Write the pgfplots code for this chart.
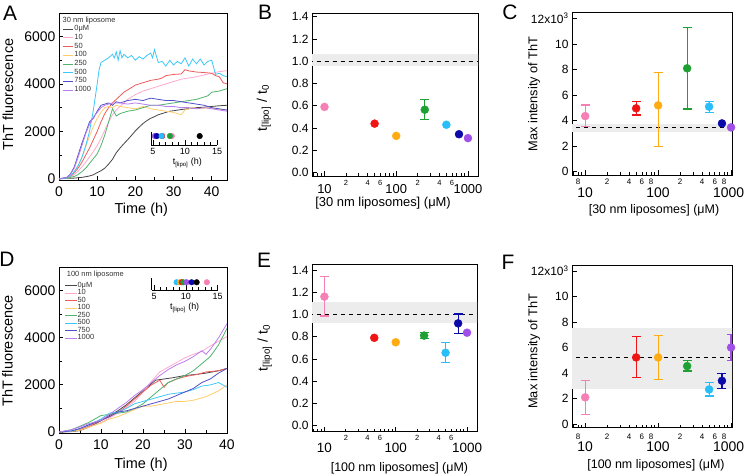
\documentclass[border=0pt]{standalone}
\usepackage{pgfplots}
\pgfplotsset{compat=1.18}
\usepackage{fontspec}
\setmainfont{Liberation Sans}
\newcommand{\fs}[1]{\fontsize{#1}{#1}\selectfont}

\definecolor{mPink}{RGB}{244,128,180}
\definecolor{mRed}{RGB}{240,20,20}
\definecolor{mOrange}{RGB}{255,172,20}
\definecolor{mGreen}{RGB}{30,160,50}
\definecolor{mCyan}{RGB}{40,190,250}
\definecolor{mBlue}{RGB}{10,10,170}
\definecolor{mPurple}{RGB}{160,80,230}
\definecolor{lBlack}{RGB}{70,70,70}
\definecolor{lPink}{RGB}{255,170,205}
\definecolor{lRed}{RGB}{240,90,90}
\definecolor{lOrange}{RGB}{255,205,110}
\definecolor{lGreen}{RGB}{80,180,110}
\definecolor{lCyan}{RGB}{60,200,250}
\definecolor{lBlue}{RGB}{80,80,200}
\definecolor{lPurple}{RGB}{185,125,240}
\definecolor{band}{RGB}{236,236,236}

\pgfplotsset{
  base/.style={scale only axis, axis line style={line width=0.9bp, black},
    tick style={line width=0.8bp, black}, tick align=inside,
    xtick pos=left, ytick pos=left, scaled ticks=false,
    /pgf/number format/assume math mode=true},
  tp/.style={base, width=168bp,
    major tick length=4bp, minor tick length=2.5bp,
    xtick={0,10,20,30,40}, xticklabels={0,10,20,30,40}, minor x tick num=1,
    ytick={0,2000,4000,6000}, yticklabels={0,2000,4000,6000}, minor y tick num=1,
    tick label style={font=\fs{14}}, xticklabel style={yshift=-3bp},
    xlabel={Time (h)}, ylabel={ThT fluorescence},
    label style={font=\fs{14.5}},
    legend cell align=left,
    every axis plot/.append style={line width=0.8bp}},
  lp/.style={base,
    major tick length=5bp, minor tick length=3bp,
    xtick={10,100,1000},
    yticklabel style={font=\fs{12}}, clip mode=individual},
  pt/.style={only marks, mark=*, mark size=4bp, color=#1, mark options={fill=#1, draw=#1, solid},
    error bars/.cd, y dir=both, y explicit,
    error bar style={line width=1.2bp, color=#1},
    error mark options={rotate=90, mark size=4.5bp, line width=1.2bp, color=#1}},
  pz/.style={only marks, mark=*, mark size=4bp, color=#1, mark options={fill=#1, draw=#1, solid}},
  ip/.style={scale only axis, width=66bp, xmin=4.7, xmax=15, ymin=0, ymax=1,
    axis x line=bottom, axis y line=left, axis line style={-, line width=0.7bp, black},
    ytick=\empty, xtick={5,10,15}, xticklabels={5,10,15}, minor x tick num=4,
    tick align=inside, major tick length=5bp, minor tick length=3bp,
    tick style={line width=0.6bp, black}, tick label style={font=\fs{9}},
    xlabel={t\textsubscript{[lipo]} (h)}, xlabel style={font=\fs{9}, anchor=center},
    clip=false},
  id/.style={only marks, mark=*, mark size=2.8bp, color=#1, mark options={fill=#1, draw=#1}},
}

\begin{document}
\begin{tikzpicture}
\useasboundingbox (0,0) rectangle (745bp,474bp);

% ================= A =================
\begin{axis}[tp, at={(59bp,294bp)}, anchor=south west, height=167bp,
  xmin=0, xmax=44, ymin=-50, ymax=6990,
  xlabel style={at={(axis description cs:0.49,-0.18)}, anchor=center},
  ylabel style={at={(axis description cs:-0.304,0.512)}, anchor=center},
  legend style={at={(axis description cs:0.022,0.93)}, anchor=north west, draw=none, fill=none,
    inner sep=0pt, row sep=0pt, font=\fs{7.5},
    nodes={inner sep=0.6bp, text height=5.3bp, text depth=2.2bp, text=black!80}},
  legend image code/.code={\draw[#1, line width=0.9bp] (0bp,0bp) -- (10bp,0bp);},
  legend entries={0μM,10,50,100,250,500,750,1000}]
\addplot[lBlack] coordinates {(0,0) (2,20) (4,30) (6,60) (8,120) (9,170) (10,260) (11,340) (12,450) (13,620) (14,820) (15,1100) (16,1300) (17,1480) (18,1650) (19,1830) (20,2020) (21,2180) (22,2330) (23,2450) (24,2550) (25,2620) (26,2700) (27,2750) (28,2800) (29,2850) (30,2870) (32,2920) (34,2960) (36,3000) (38,3020) (40,3050) (42,3080) (44,3100)};
\addplot[lPink] coordinates {(0,0) (2,30) (3,80) (4,180) (5,320) (6,500) (7,700) (8,920) (9,1150) (10,1400) (11,1700) (12,2050) (13,2400) (14,2700) (15,2900) (16,3050) (17,3200) (18,3350) (19,3450) (20,3550) (22,3700) (24,3800) (26,3900) (28,4000) (30,4100) (32,4200) (34,4250) (36,4300) (38,4380) (40,4450) (42,4520) (44,4560)};
\addplot[lRed] coordinates {(0,0) (2,30) (3,100) (4,250) (5,450) (6,700) (7,1000) (8,1300) (9,1650) (10,2000) (11,2400) (12,2750) (13,3000) (14,3200) (15,3350) (16,3500) (17,3650) (18,3750) (19,3850) (20,3950) (22,4050) (24,4150) (26,4200) (27,4250) (28,4350) (30,4400) (32,4420) (33,4600) (34,4550) (36,4500) (38,4480) (40,4450) (41,4350) (42,4300) (43,4050) (44,4000)};
\addplot[lOrange] coordinates {(0,0) (2,40) (3,120) (4,300) (5,550) (6,900) (7,1350) (8,1800) (9,2200) (10,2550) (11,2800) (12,3000) (13,3050) (14,3000) (15,3100) (16,3050) (18,3000) (20,2950) (22,3050) (24,2950) (26,2900) (28,2850) (30,2800) (31,2750) (32,2700) (33,2900) (35,3000) (37,2950) (39,3000) (41,2950) (44,2900)};
\addplot[lGreen] coordinates {(0,0) (2,20) (4,100) (5,180) (6,300) (7,450) (8,650) (9,850) (10,1050) (11,1400) (12,1850) (13,2400) (14,2950) (15,2650) (16,2750) (17,2800) (18,2850) (20,2900) (22,3000) (24,3100) (26,3100) (28,3150) (30,3200) (32,3250) (34,3300) (36,3350) (38,3450) (39,3500) (40,3650) (42,3700) (44,3800)};
\addplot[lCyan] coordinates {(0,0) (2,40) (3,120) (4,300) (5,550) (6,900) (7,1400) (8,2000) (9,2900) (10,4000) (10.5,4600) (11,4900) (12,5000) (13,5100) (14,5250) (14.5,5100) (15,5350) (15.5,5000) (16,5400) (16.5,5100) (17,5250) (18,5100) (19,5200) (20,5000) (21,5150) (22,5050) (23,5200) (24,5300) (24.5,5100) (25,5450) (26,4900) (27,4950) (28,4750) (29,5000) (30,4800) (31,4950) (32,4850) (33,5100) (34,4750) (35,5050) (36,4850) (37,5050) (38,4800) (39,4950) (40,5000) (41,4400) (42,4450) (43,4350) (44,4300)};
\addplot[lBlue] coordinates {(0,0) (2,60) (3,200) (4,500) (5,1000) (6,1500) (7,1950) (8,2400) (9,2550) (10,2850) (11,3100) (12,3150) (13,3200) (14,3100) (15,3250) (16,3200) (18,3300) (20,3350) (22,3300) (24,3400) (26,3350) (28,3300) (30,3300) (32,3250) (34,3200) (36,3150) (38,3100) (40,3000) (42,2950) (44,2900)};
\addplot[lPurple] coordinates {(0,0) (2,50) (3,180) (4,450) (5,900) (6,1400) (7,1900) (8,2300) (9,2600) (10,2800) (11,3000) (12,3100) (13,3150) (14,3200) (16,3200) (18,3150) (20,3200) (22,3150) (24,3100) (26,3100) (28,3050) (30,3050) (32,3000) (34,3000) (36,2950) (38,3000) (40,2950) (42,2900) (44,2850)};
\node[anchor=west, font=\fs{7.5}, inner sep=0pt, text=black!80] at (axis description cs:0.021,0.955) {30 nm liposome};
\end{axis}

% inset A
\begin{axis}[ip, at={(151bp,329bp)}, anchor=south west, height=13bp,
  xlabel style={at={(axis description cs:0.55,-1.38)}}]
\addplot[id=mPink] coordinates {(7.95,0.69)};
\addplot[id=mRed] coordinates {(6.45,0.69)};
\addplot[id=mOrange] coordinates {(5.45,0.69)};
\addplot[id=mPurple] coordinates {(5.3,0.69)};
\addplot[id=mBlue] coordinates {(5.6,0.69)};
\addplot[id=mCyan] coordinates {(6.35,0.69)};
\addplot[id=mGreen] coordinates {(7.65,0.69)};
\addplot[id=black] coordinates {(12.3,0.69)};
\end{axis}

% ================= D =================
\begin{axis}[tp, at={(59bp,41bp)}, anchor=south west, height=166bp,
  xmin=0, xmax=40, ymin=-40, ymax=7000,
  xlabel style={at={(axis description cs:0.488,-0.193)}, anchor=center},
  ylabel style={at={(axis description cs:-0.307,0.494)}, anchor=center},
  legend style={at={(axis description cs:0.032,0.91)}, anchor=north west, draw=none, fill=none,
    inner sep=0pt, row sep=0pt, font=\fs{7.5},
    nodes={inner sep=0.6bp, text height=4.6bp, text depth=1.7bp, text=black!80}},
  legend image code/.code={\draw[#1, line width=0.9bp] (0bp,0bp) -- (11.5bp,0bp);},
  legend entries={0μM,10,50,100,250,500,750,1000}]
\addplot[lBlack] coordinates {(0,0) (3,20) (5,60) (7,200) (9,380) (10,480) (12,700) (14,900) (16,1150) (18,1450) (20,1750) (22,2050) (23,2200) (25,2250) (27,2300) (30,2400) (33,2450) (35,2500) (38,2600) (40,2700)};
\addplot[lPink] coordinates {(0,0) (3,40) (5,100) (7,200) (10,400) (12,600) (15,900) (18,1300) (20,1700) (22,2150) (24,2550) (26,2750) (28,2950) (30,3150) (32,3300) (34,3420) (36,3650) (38,3850) (40,4050)};
\addplot[lRed] coordinates {(0,0) (3,30) (5,100) (7,250) (10,500) (12,650) (15,950) (18,1400) (20,1700) (22,2000) (24,2200) (25,1900) (26,2100) (28,2250) (30,2350) (33,2450) (35,2550) (38,2600) (40,2700)};
\addplot[lOrange] coordinates {(0,0) (3,30) (5,80) (7,200) (10,380) (12,550) (14,650) (16,800) (18,950) (20,1100) (22,1100) (25,1200) (28,1300) (30,1300) (32,1350) (35,1500) (38,1750) (40,2000)};
\addplot[lGreen] coordinates {(0,0) (3,100) (5,250) (7,400) (9,600) (10,700) (12,750) (14,800) (16,850) (18,1000) (20,1200) (22,1500) (24,1800) (26,2100) (28,2250) (30,2400) (32,2600) (34,2900) (36,3200) (38,3700) (40,4400)};
\addplot[lCyan] coordinates {(0,0) (3,40) (5,150) (7,300) (10,550) (12,800) (14,850) (16,1000) (18,1200) (20,1300) (22,1400) (24,1500) (26,1600) (28,1650) (30,1700) (32,1800) (34,1950) (36,2000) (38,2100) (40,1900)};
\addplot[lBlue] coordinates {(0,0) (3,50) (5,150) (7,300) (10,500) (12,650) (14,850) (16,900) (18,1000) (20,1100) (22,1200) (24,1300) (26,1400) (28,1550) (30,1700) (32,1850) (34,2100) (36,2250) (38,2500) (40,2700)};
\addplot[lPurple] coordinates {(0,0) (3,100) (5,220) (7,350) (10,500) (12,750) (14,1000) (16,1250) (18,1550) (20,1800) (22,2100) (24,2400) (26,2650) (28,2850) (30,3000) (32,3200) (34,3450) (35,3300) (36,3500) (38,4000) (40,4600)};
\node[anchor=west, font=\fs{7.5}, inner sep=0pt, text=black!80] at (axis description cs:0.046,0.952) {100 nm liposome};
\end{axis}

% inset D
\begin{axis}[ip, at={(151.7bp,184bp)}, anchor=south west, height=12.3bp, xmin=4.64,
  xlabel style={at={(axis description cs:0.5,-1.45)}}]
\addplot[id=mCyan] coordinates {(8.55,0.63)};
\addplot[id=mOrange] coordinates {(9.06,0.63)};
\addplot[id=mRed] coordinates {(9.35,0.63)};
\addplot[id=mGreen] coordinates {(9.6,0.63)};
\addplot[id=mPurple] coordinates {(10.1,0.63)};
\addplot[id=mBlue] coordinates {(10.9,0.63)};
\addplot[id=black] coordinates {(11.7,0.63)};
\addplot[id=mPink] coordinates {(13.3,0.63)};
\end{axis}

% ================= B =================
\begin{semilogxaxis}[lp, at={(312bp,298bp)}, anchor=south west, width=166bp, height=163bp,
  xmin=6.7, xmax=1380, ymin=-0.03, ymax=1.433,
  xticklabels={10,100,1000},
  ytick={0,0.2,0.4,0.6,0.8,1.0,1.2,1.4}, yticklabels={0.0,0.2,0.4,0.6,0.8,1.0,1.2,1.4},
  minor xtick={7,8,9,30,50,70,80,90,300,500,700,800,900},
  extra x ticks={20,40,60,200,400,600}, extra x tick labels={2,4,6,2,4,6},
  xticklabel style={font=\fs{13}, inner sep=0pt, anchor=north, yshift=-8bp},
  extra x tick style={major tick length=3bp, xticklabel style={font=\fs{7.5}, yshift=3.7bp}},
  xlabel={[30 nm liposomes] (μM)}, ylabel={t\textsubscript{[lipo]} / t\textsubscript{0}},
  xlabel style={font=\fs{13}, at={(axis description cs:0.428,-0.168)}, anchor=center},
  ylabel style={font=\fs{14}, at={(axis description cs:-0.29,0.416)}, anchor=center}]
\addplot[fill=band, draw=none] coordinates {(1,0.958) (5000,0.958) (5000,1.063) (1,1.063)} -- cycle;
\addplot[black, line width=1bp, dash pattern=on 4bp off 4bp] coordinates {(1,1) (5000,1)};
\addplot[pz=mPink] coordinates {(10,0.59)};
\addplot[pz=mRed] coordinates {(50,0.44)};
\addplot[pz=mOrange] coordinates {(100,0.33)};
\addplot[pt=mGreen] coordinates {(250,0.565) +- (0,0.09)};
\addplot[pz=mCyan] coordinates {(500,0.43)};
\addplot[pz=mBlue] coordinates {(750,0.345)};
\addplot[pz=mPurple] coordinates {(1000,0.31)};
\end{semilogxaxis}

% ================= C =================
\begin{semilogxaxis}[lp, at={(572bp,299bp)}, anchor=south west, width=160bp, height=163bp,
  xmin=6.6, xmax=1030, ymin=-0.26, ymax=12.5,
  xticklabels={10,100,{1000\hspace*{5bp}}},
  ytick={0,2,4,6,8,10,12}, yticklabels={0,2,4,6,8,10,12x10\textsuperscript{3}},
  minor xtick={7,9,30,50,70,90,300,500,700,900},
  extra x ticks={8,20,40,60,80,200,400,600,800}, extra x tick labels={8,2,4,6,8,2,4,6,8},
  xticklabel style={font=\fs{14}, inner sep=0pt, anchor=north, yshift=-13bp},
  extra x tick style={major tick length=3bp, xticklabel style={font=\fs{8}, yshift=8.9bp}},
  xlabel={[30 nm liposomes] (μM)}, ylabel={Max intensity of ThT},
  xlabel style={font=\fs{12.5}, at={(axis description cs:0.5125,-0.215)}, anchor=center},
  ylabel style={font=\fs{12.8}, at={(axis description cs:-0.2375,0.497)}, anchor=center}]
\addplot[fill=band, draw=none] coordinates {(1,3.08) (5000,3.08) (5000,3.73) (1,3.73)} -- cycle;
\addplot[black, line width=1bp, dash pattern=on 4bp off 4bp] coordinates {(1,3.44) (5000,3.44)};
\addplot[pt=mPink] coordinates {(10,4.35) += (0,0.87) -= (0,0.83)};
\addplot[pt=mRed] coordinates {(50,4.96) += (0,0.52) -= (0,0.52)};
\addplot[pt=mOrange] coordinates {(100,5.19) += (0,2.58) -= (0,3.2)};
\addplot[pt=mGreen] coordinates {(250,8.09) += (0,3.21) -= (0,3.19)};
\addplot[pt=mCyan] coordinates {(500,5.09) += (0,0.39) -= (0,0.45)};
\addplot[pz=mBlue] coordinates {(750,3.78)};
\addplot[pz=mPurple] coordinates {(1000,3.47)};
\end{semilogxaxis}

% ================= E =================
\begin{semilogxaxis}[lp, at={(312bp,42.3bp)}, anchor=south west, width=165bp, height=167.4bp,
  xmin=6.7, xmax=1380, ymin=-0.054, ymax=1.451,
  xticklabels={10,100,1000},
  ytick={0,0.2,0.4,0.6,0.8,1.0,1.2,1.4}, yticklabels={0.0,0.2,0.4,0.6,0.8,1.0,1.2,1.4},
  minor xtick={7,8,9,30,50,70,80,90,300,500,700,800,900},
  extra x ticks={20,40,60,200,400,600}, extra x tick labels={2,4,6,2,4,6},
  xticklabel style={font=\fs{13.5}, inner sep=0pt, anchor=north, yshift=-11bp},
  extra x tick style={major tick length=3bp, xticklabel style={font=\fs{7.5}, yshift=7.6bp}},
  xlabel={[100 nm liposomes] (μM)}, ylabel={t\textsubscript{[lipo]} / t\textsubscript{0}},
  xlabel style={font=\fs{12.5}, at={(axis description cs:0.53,-0.217)}, anchor=center},
  ylabel style={font=\fs{14}, at={(axis description cs:-0.287,0.50)}, anchor=center}]
\addplot[fill=band, draw=none] coordinates {(1,0.92) (5000,0.92) (5000,1.115) (1,1.115)} -- cycle;
\addplot[black, line width=1bp, dash pattern=on 4bp off 4bp] coordinates {(1,1) (5000,1)};
\addplot[pt=mPink] coordinates {(10,1.16) += (0,0.18) -= (0,0.174)};
\addplot[pz=mRed] coordinates {(50,0.79)};
\addplot[pz=mOrange] coordinates {(100,0.75)};
\addplot[pt=mGreen] coordinates {(250,0.81) +- (0,0.025)};
\addplot[pt=mCyan] coordinates {(500,0.656) += (0,0.09) -= (0,0.089)};
\addplot[pt=mBlue] coordinates {(750,0.92) += (0,0.084) -= (0,0.09)};
\addplot[pz=mPurple] coordinates {(1000,0.836)};
\end{semilogxaxis}

% ================= F =================
\begin{semilogxaxis}[lp, at={(572bp,46.3bp)}, anchor=south west, width=160bp, height=162.7bp,
  xmin=6.6, xmax=1030, ymin=-0.29, ymax=12.47,
  xticklabels={10,100,{1000\hspace*{5bp}}},
  ytick={0,2,4,6,8,10,12}, yticklabels={0,2,4,6,8,10,12x10\textsuperscript{3}},
  minor xtick={7,9,30,50,70,90,300,500,700,900},
  extra x ticks={8,20,40,60,80,200,400,600,800}, extra x tick labels={8,2,4,6,8,2,4,6,8},
  xticklabel style={font=\fs{14}, inner sep=0pt, anchor=north, yshift=-14bp},
  extra x tick style={major tick length=3bp, xticklabel style={font=\fs{8}, yshift=7.9bp}},
  xlabel={[100 nm liposomes] (μM)}, ylabel={Max intensity of ThT},
  xlabel style={font=\fs{12.5}, at={(axis description cs:0.525,-0.229)}, anchor=center},
  ylabel style={font=\fs{12.8}, at={(axis description cs:-0.2375,0.47)}, anchor=center}]
\addplot[fill=band, draw=none] coordinates {(1,2.74) (5000,2.74) (5000,7.54) (1,7.54)} -- cycle;
\addplot[black, line width=1bp, dash pattern=on 4bp off 4bp] coordinates {(1,5.22) (5000,5.22)};
\addplot[pt=mPink] coordinates {(10,2.09) += (0,1.35) -= (0,1.33)};
\addplot[pt=mRed] coordinates {(50,5.22) += (0,1.62) -= (0,1.59)};
\addplot[pt=mOrange] coordinates {(100,5.22) += (0,1.75) -= (0,1.7)};
\addplot[pt=mGreen] coordinates {(250,4.54) += (0,0.46) -= (0,0.39)};
\addplot[pt=mCyan] coordinates {(500,2.71) += (0,0.55) -= (0,0.52)};
\addplot[pt=mBlue] coordinates {(750,3.39) += (0,0.58) -= (0,0.6)};
\addplot[pt=mPurple] coordinates {(1000,6.0) += (0,1.02) -= (0,0.99)};
\end{semilogxaxis}

% panel letters
\node[font=\fs{21}] at (10bp,461bp) {A};
\node[font=\fs{21}] at (265bp,462bp) {B};
\node[font=\fs{21}] at (510bp,462bp) {C};
\node[font=\fs{21}] at (7bp,215bp) {D};
\node[font=\fs{21}] at (264bp,214bp) {E};
\node[font=\fs{21}] at (508bp,212bp) {F};
\end{tikzpicture}
\end{document}
